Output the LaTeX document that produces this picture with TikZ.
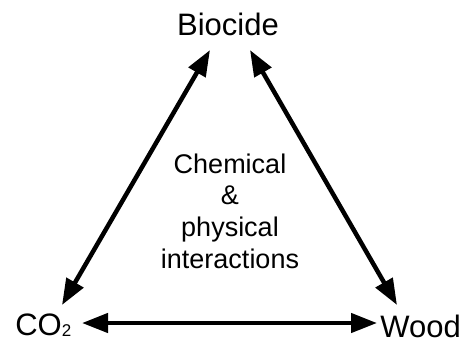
\documentclass[tikz,border=0pt]{standalone}
\usepackage{fontspec}
\setmainfont{Liberation Sans}
\usetikzlibrary{arrows.meta}
\begin{document}
\begin{tikzpicture}[x=1pt, y=-1pt, >={Triangle[length=26pt,width=19pt]}, line width=4.5pt]
    \useasboundingbox (0,0) rectangle (465,343);

    % corner labels
    \tikzset{corner/.style={font=\fontsize{31}{34}\selectfont, inner sep=0pt}}
    \node[corner, anchor=base] (bio) at (228,35) {Biocide};
    \node[corner, anchor=base west] (co2) at (13,335)
        {CO\raisebox{-1.5pt}{\fontsize{17}{17}\selectfont 2}};
    \node[corner, anchor=base east] (wood) at (463,337) {Wood};

    % middle text
    \node[align=center, inner sep=0pt, font=\fontsize{27}{31.7}\selectfont] (mid) at (230,211)
        {Chemical\\\&\\physical\\interactions};

    % arrow ends
    \coordinate (bioL) at (210,50);
    \coordinate (bioR) at (250,50);
    \coordinate (co2T) at (62,305);
    \coordinate (co2R) at (82,323);
    \coordinate (woodT) at (397,305);
    \coordinate (woodL) at (377,323);

    \draw[<->] (bioL) -- (co2T);
    \draw[<->] (bioR) -- (woodT);
    \draw[<->] (co2R) -- (woodL);
\end{tikzpicture}
\end{document}
